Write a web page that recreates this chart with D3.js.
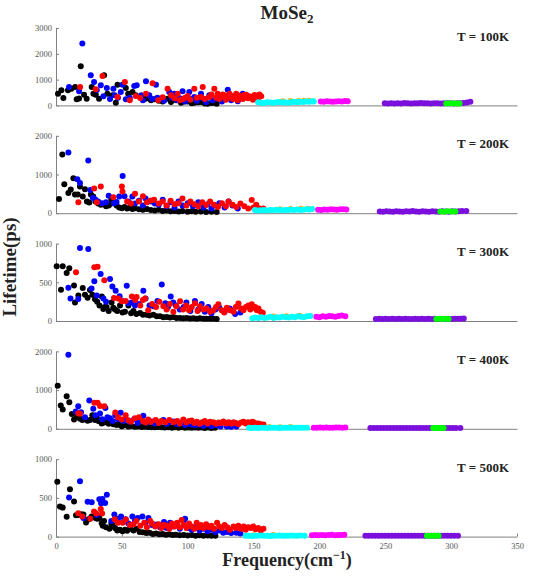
<!DOCTYPE html>
<html><head><meta charset="utf-8">
<script src="https://cdn.jsdelivr.net/npm/d3@7"></script>
<style>body{margin:0;background:#fff}</style>
</head><body><svg id="c" width="541" height="582"></svg>
<script>
// ---------- labels / ticks ----------
const titleMain = "MoSe";
const titleSub = "2";
const yLabel = "Lifetime(ps)";
const xLabelMain = "Frequency(cm";
const xLabelSup = "−1";
const tempLabels = ["T = 100K", "T = 200K", "T = 300K", "T = 400K", "T = 500K"];
const yMaxes = [3000, 2000, 1000, 2000, 1000];
const yTickVals = [[0,1000,2000,3000],[0,1000,2000],[0,500,1000],[0,1000,2000],[0,500,1000]];
const xTickVals = [0,50,100,150,200,250,300,350];
const seriesNames = ["ZA","TA","LA","O1","O2","O3","O4","O5"];
const seriesColors = ["#000000","#0000ff","#ff0000","#edb120","#00ffff","#ff00ff","#7b0fdc","#00ff00"];

// ---------- T = 100K ----------
const za100 = [[1.5,455],[4.1,585],[5.6,286],[9.1,585],[11.7,650],[14.5,714],[15.7,234],[17.5,270],[18.8,1520],[21.3,416],[23.3,260],[27.1,714],[28.4,455],[30.2,416],[32.7,260],[36.5,1170],[39,455],[42.9,390],[45.4,104],[46.7,805],[53,675],[54.8,455],[58.1,520],[60.6,390],[65.7,325],[68,260],[72.1,195],[74.6,234],[78,180],[80.9,156],[84.7,260],[87.3,130],[91.1,195],[94.9,104],[97,150],[99.9,156],[103,80],[105,104],[108,120],[110.1,130],[113,70],[115.1,65],[118,90],[120.2,104],[122,60]];
const ta100 = [[9.9,714],[17.5,545],[20,2400],[26.4,1170],[28.9,908],[31,600],[34,778],[36,350],[38.6,675],[41,250],[43.6,650],[44.6,390],[47,300],[49.2,520],[50.5,805],[53,234],[56,300],[59.4,750],[61.3,778],[64.8,390],[66,200],[68.3,935],[70.8,390],[73,250],[75.9,805],[77,300],[79.7,260],[82,180],[86,520],[88,300],[89.8,455],[92,200],[94,280],[96.1,545],[98,150],[101.2,520],[103,250],[105,325],[107,180],[110.1,455],[112,260],[114,120],[116.4,390],[119,200],[122.7,260],[126,150],[130.4,610],[133,200],[135.5,350],[138,160],[141.8,455]];
const la100 = [[18.3,714],[30.2,623],[35.3,1140],[46.7,325],[52.3,908],[56,200],[60.6,364],[63.9,286],[68.3,455],[73.3,856],[77.6,195],[81,320],[84.7,650],[87.3,390],[90,280],[92.4,455],[94,200],[96.1,234],[98,300],[100,364],[102,220],[105,650],[107,300],[110.1,325],[111.4,714],[113,250],[116.4,325],[118,420],[120.2,650],[121.5,300],[122.7,455],[124,250],[125.3,325],[126.5,420],[127.8,390],[129,220],[130.4,286],[131.7,450],[133,364],[134.3,250],[135.5,300],[136.8,455],[138,200],[139.3,380],[140.6,325],[141.9,250],[143.1,400],[144.4,416],[145.7,280],[147,350],[148.2,325],[149.5,220],[150.8,400],[152,300],[153.3,250],[154.5,420],[155.8,350]];
const or100 = [[172,165],[178,170],[184,175],[188,180],[192,185]];
const cy100 = [[153.5,120],[155.8,105],[158,95],[160.3,125],[162.6,110],[164.9,100],[167.2,120],[169.5,135],[171.8,110],[174,120],[176.3,100],[178.6,125],[180.9,145],[183.2,120],[185.5,140],[187.8,130],[190,155],[192.3,145],[194.5,165],[195.7,150]];
const mg100 = [[201,150],[203.3,140],[205.6,160],[207.9,150],[210.2,145],[212.5,155],[214.8,165],[217.1,150],[219.4,170],[221.5,160]];
const pu100 = [[249.6,80],[252,75],[254.5,85],[257,70],[259.5,80],[262,75],[264.5,90],[267,80],[269.5,75],[272,85],[274.5,80],[277,90],[279.5,85],[282,80],[284.5,75],[287,85],[289.5,80],[292,75],[294.5,80],[297,85],[299.5,80],[302,75],[304.5,80],[307,85],[309.5,90],[312,110],[314.6,140]];
const gr100 = [[296.3,75],[298.8,70],[301.3,80],[303.8,75],[306.3,70]];

// ---------- T = 200K ----------
const za200 = [[2.3,370],[4.8,1520],[6.3,750],[9.4,520],[11.2,610],[13.2,900],[14.4,480],[16.5,480],[18.2,690],[20.3,430],[22,620],[23.5,300],[25.3,275],[26.5,480],[28.3,430],[30,300],[32,250],[34,220],[36,230],[38,180],[40,200],[41,230],[42,350],[43,310],[44.5,260],[46,200],[48,150],[50,130],[52,160],[54,120],[56,140],[58,110],[60,130],[63,100],[66,90],[69,110],[72,80],[75,70],[78,90],[81,60],[84,70],[87,50],[90,60],[93,45],[96,55],[100,40],[103,50],[106,35],[110,45],[114,30],[118,40],[122,30]];
const ta200 = [[9.4,1570],[16.2,880],[18.2,780],[24.5,1360],[26,600],[28,400],[30,350],[32,300],[35,260],[38,280],[40,450],[44,260],[46,290],[48,430],[50.6,960],[52,440],[55,300],[58,430],[60,250],[63,320],[66,200],[68,380],[72,300],[75,250],[78,220],[81,350],[84,180],[87,280],[90,150],[93,300],[96,200],[100,260],[104,180],[108,280],[112,150],[115,230],[118,120],[121,200],[124,260],[128,150],[131,300],[134,200],[138,120]];
const la200 = [[17,280],[29,640],[31,280],[34,690],[43.5,410],[50,690],[50.5,560],[54,300],[57,250],[60,500],[63,300],[66,440],[69,280],[72,330],[74.5,350],[78,250],[81,300],[84,200],[87,320],[90,230],[93,260],[96,380],[99,200],[102,300],[105,230],[108,180],[111,280],[114,210],[117,300],[120,220],[123,160],[126,260],[129,180],[131,300],[134,220],[137,160],[140,250],[143,180],[146,120],[148.6,340],[150,150],[152,220],[154,130],[156,100],[157.4,120]];
const or200 = [[170,105],[178,110],[186,112],[191,115]];
const cy200 = [[151,80],[153.3,70],[155.6,75],[157.9,85],[160.2,70],[162.5,80],[164.8,75],[167.1,90],[169.4,80],[171.7,75],[174,85],[176.3,80],[178.6,90],[180.9,85],[183.2,95],[185.5,80],[187.8,90],[190.1,100],[192.4,95],[194.4,110]];
const mg200 = [[199,90],[201.4,85],[203.8,95],[206.2,90],[208.6,100],[211,95],[213.4,90],[215.8,100],[218.2,105],[220.4,95]];
const pu200 = [[245.8,45],[248.3,40],[250.8,50],[253.3,45],[255.8,40],[258.3,50],[260.8,45],[263.3,40],[265.8,50],[268.3,45],[270.8,55],[273.3,45],[275.8,40],[278.3,50],[280.8,45],[283.3,40],[285.8,50],[288.3,45],[290.8,40],[293.3,50],[295.8,45],[298.3,40],[300.8,50],[303.3,45],[305.8,50],[308.3,55],[311.5,60]];
const gr200 = [[291.8,45],[294.6,40],[297.4,50],[300.2,45],[303.2,45]];

// ---------- T = 300K ----------
const za300 = [[0.5,707],[3.8,405],[5.1,707],[8.1,620],[10.1,680],[13.7,460],[14.4,240],[17,330],[20.3,427],[22,340],[24,300],[25.8,400],[27.6,340],[29.6,280],[31.3,250],[33,200],[34.8,318],[35.9,155],[37,180],[38.4,180],[40,130],[42.2,240],[43.5,170],[44.8,150],[46.5,130],[48.6,200],[50.5,110],[52.4,120],[55,200],[57,100],[58.8,130],[61,90],[63.8,103],[66,80],[68.9,82],[71,70],[73.9,82],[76.5,60],[79,60],[81.5,50],[84,52],[86.5,45],[89.1,52],[91.5,40],[94.2,39],[96.7,35],[99.2,39],[101.8,32],[104.3,35],[106.8,30],[109.3,35],[112,28],[114.4,30],[117,28],[119.5,30],[122,25]];
const ta300 = [[9.4,430],[11,290],[16.9,285],[18.2,944],[24.5,930],[27,420],[29.1,512],[31,330],[33.9,608],[36,290],[38,250],[41,543],[42.8,445],[45.3,390],[48.3,320],[50,260],[53.7,457],[55,230],[57.6,240],[60,200],[63,220],[66.3,390],[68,290],[71,200],[74,190],[77,260],[80.3,470],[83,230],[85,180],[87.1,318],[89,240],[91,200],[94,150],[97,180],[99,240],[102,130],[105.5,260],[108,150],[110.6,220],[113,120],[115.6,180],[118,100],[121,150],[124,170],[128,120],[132,160],[136,90],[140,110]];
const la300 = [[15.2,630],[29.1,694],[31.6,700],[36.7,525],[44,297],[47.3,292],[49.9,254],[52.9,260],[57.6,317],[60.1,270],[61.2,310],[64,200],[66,270],[67.6,292],[70,140],[73,220],[76,180],[78.5,250],[81.5,190],[84,150],[86.5,220],[89.1,120],[91.5,190],[94.2,255],[96.5,150],[98.8,200],[101,140],[103.1,180],[105.5,230],[107.5,130],[109.3,190],[112,150],[114.4,160],[117,120],[119.5,140],[121.5,180],[123.3,215],[125.8,140],[127.7,110],[129.7,170],[132,140],[134.8,120],[136.5,180],[138.5,225],[140.5,160],[142.3,140],[144.2,180],[146.1,200],[147.5,150],[148.6,215],[150,170],[151.2,180],[152.5,140],[153.7,160],[155.3,120],[157,107]];
const or300 = [[165,58],[175,62],[185,68]];
const cy300 = [[149.1,35],[151.4,45],[153.7,40],[156,50],[158.3,40],[160.6,45],[162.9,55],[165.2,40],[167.5,50],[169.8,45],[172.1,55],[174.4,50],[176.7,45],[179,55],[181.3,50],[183.6,60],[185.9,55],[188.2,50],[190.5,60],[193.1,65]];
const mg300 = [[197.7,55],[200.1,50],[202.5,60],[204.9,55],[207.3,65],[209.7,60],[212.1,55],[214.5,65],[216.9,70],[219.7,60]];
const pu300 = [[242.8,25],[245.3,30],[247.8,25],[250.3,28],[252.8,25],[255.3,30],[257.8,25],[260.3,28],[262.8,25],[265.3,30],[267.8,26],[270.3,25],[272.8,30],[275.3,25],[277.8,28],[280.3,25],[282.8,30],[285.3,25],[287.8,28],[290.3,25],[292.8,30],[295.3,25],[297.8,28],[300.3,25],[302.8,30],[305.3,28],[307.5,30],[309.6,32]];
const gr300 = [[288.8,25],[291.1,28],[293.4,25],[295.7,28],[298.1,25]];

// ---------- T = 400K ----------
const za400 = [[1.3,1115],[3.6,600],[5.1,497],[8.1,840],[10.1,686],[12,380],[13.7,240],[15.2,370],[17,300],[18.2,260],[20,230],[22,250],[24,210],[25.8,230],[27.6,350],[29.6,230],[31,280],[32.2,200],[34.7,140],[36.5,160],[38.5,170],[40,130],[42,150],[43.5,120],[46,95],[48,110],[49.9,67],[52,90],[54.9,60],[57,75],[59.9,56],[62,60],[65,47],[67.5,55],[70,47],[72.5,40],[75.1,43],[77.5,45],[80.2,43],[82.5,35],[85.2,39],[88,30],[90.3,39],[93,30],[95.4,39],[98,28],[100.4,34],[103,25],[105.5,34],[108,25],[110.6,34],[113,22],[115.6,34],[118,22],[120.7,30]];
const ta400 = [[9.4,1915],[15,450],[16.9,583],[19,430],[22,300],[25.3,730],[28.3,515],[30,350],[33.4,395],[35,250],[37.5,540],[39,300],[41,270],[43,200],[45,350],[47,250],[49.1,412],[51,200],[53.1,240],[56,180],[59.3,250],[62,150],[64,200],[66.3,340],[69,160],[72.8,190],[75,140],[78,170],[81.5,230],[84,130],[86,170],[89.1,190],[92,120],[95.4,150],[98,100],[100,130],[103,110],[106,90],[109.3,110],[112,80],[115.6,110],[118,70],[121.9,90],[125,60],[129.7,60],[133,50],[137,60]];
const la400 = [[16.9,400],[18.2,386],[29.1,670],[31.6,670],[33.4,590],[36.7,583],[45,420],[47,300],[49.9,240],[52.9,350],[55,220],[57,180],[59.9,270],[63,300],[66,200],[68,160],[70,240],[72,180],[75.7,230],[78,150],[80,200],[83,170],[86,230],[89.1,170],[92,200],[94,140],[96.7,240],[99,160],[101,200],[103,215],[105,150],[107,180],[109,130],[111,170],[113,200],[115,140],[117,180],[119.5,170],[121.5,130],[123.5,160],[125.5,150],[127.1,190],[129,140],[131,170],[133,130],[134.8,170],[136.5,150],[138.5,120],[140.5,160],[142.3,180],[144,140],[146,170],[147.7,150],[149.3,185],[151,150],[153.6,140],[155.5,120],[157.5,110]];
const or400 = [[162,45],[170,42],[178,48]];
const cy400 = [[146.6,25],[148.9,20],[151.2,28],[153.5,22],[155.8,25],[158.1,30],[160.4,22],[162.7,26],[165,24],[167.3,28],[169.6,22],[171.9,26],[174.2,30],[176.5,24],[178.8,28],[181.1,25],[183.4,30],[185.7,26],[188,28],[190.6,30]];
const mg400 = [[195.7,30],[198.1,28],[200.5,32],[202.9,30],[205.3,34],[207.7,30],[210.1,28],[212.5,32],[214.9,35],[217.3,30],[219.7,32]];
const pu400 = [[238.7,20],[241.2,18],[243.7,22],[246.2,20],[248.7,18],[251.2,22],[253.7,20],[256.2,18],[258.7,22],[261.2,20],[263.7,18],[266.2,22],[268.7,20],[271.2,18],[273.7,22],[276.2,20],[278.7,18],[281.2,22],[283.7,20],[286.2,18],[288.7,22],[291.2,20],[293.7,18],[296.2,22],[298.7,20],[301.2,18],[303.7,22],[307,22]];
const gr400 = [[286.3,20],[288.3,22],[290.3,20],[292.3,22],[294.3,20]];

// ---------- T = 500K ----------
const za500 = [[1,710],[3,388],[5.1,375],[8.1,258],[10.6,612],[13.7,452],[15.2,275],[17,280],[19,290],[20.8,285],[22.8,181],[24.5,220],[25.8,235],[27,260],[28.3,260],[30,240],[31.3,230],[32.9,240],[34.7,172],[35.5,140],[36.5,200],[38,120],[40.5,100],[42,170],[43,150],[44.8,110],[46.5,80],[48.6,90],[50.5,70],[52.4,90],[54,75],[56.2,100],[58.8,78],[61.3,100],[63.5,60],[66,55],[68.5,45],[71,50],[73.5,35],[76,40],[78.5,30],[81,35],[83.5,25],[86,30],[88.5,20],[91,25],[94,18],[97,22],[100,15],[103,20],[106,12],[109,18],[112,12],[115,15],[118,10],[121,12]];
const ta500 = [[9.9,505],[18.2,715],[20.8,240],[24,450],[27.1,444],[30.9,280],[32.9,483],[34.2,430],[35.2,487],[37.3,435],[38.6,540],[42,200],[44.3,284],[47,230],[49.4,260],[51,190],[52.9,224],[55,170],[58,260],[60,210],[62,240],[65.6,260],[68,180],[70.2,240],[73,150],[76.5,155],[79,120],[82,190],[84,110],[86.6,180],[89,130],[92,170],[94,100],[96.8,200],[98,230],[100.6,110],[103,90],[106,120],[109,80],[112,100],[115,70],[118,90],[121,60],[124,80],[127,50],[130,60],[133,45],[137,50],[140,40]];
const la500 = [[16.9,302],[20,260],[26,230],[28.9,325],[30.5,300],[34,355],[35,300],[44.5,225],[47,180],[50.7,180],[53,220],[56,150],[58.8,160],[61,200],[64,140],[67,180],[69,120],[71.5,200],[73,170],[75.3,130],[78,160],[80,110],[82,150],[84.1,140],[86,100],[88,170],[90,130],[92,180],[94,120],[95.4,215],[97,150],[99,110],[101,170],[103,130],[105,100],[106.8,180],[108.5,120],[110,150],[112,110],[114,160],[116,120],[118,140],[120,100],[122.3,180],[124,130],[126,110],[128,150],[130,120],[132,90],[134.8,130],[136.5,110],[138.5,140],[140.5,100],[142.5,130],[144,90],[146,120],[148,110],[149.8,130],[151.5,95],[153.5,110],[155.5,80],[157.5,100]];
const or500 = [[150,18],[165,20]];
const cy500 = [[144.1,10],[146.4,12],[148.7,8],[151,12],[153.3,10],[155.6,14],[157.9,10],[160.2,12],[162.5,8],[164.8,12],[167.1,10],[169.4,14],[171.7,10],[174,12],[176.3,10],[178.6,14],[180.9,12],[183.2,10],[185.5,14],[188.7,12]];
const mg500 = [[194.3,18],[196.8,20],[199.3,16],[201.8,22],[204.3,18],[206.8,20],[209.3,24],[211.8,18],[214.3,22],[216.8,20],[218.9,24]];
const pu500 = [[234.9,12],[237.4,10],[239.9,12],[242.4,10],[244.9,12],[247.4,10],[249.9,12],[252.4,10],[254.9,12],[257.4,10],[259.9,12],[262.4,10],[264.9,12],[267.4,10],[269.9,12],[272.4,10],[274.9,12],[277.4,10],[279.9,12],[282.4,10],[284.9,12],[287.4,10],[289.9,12],[292.4,10],[294.9,12],[297.4,10],[299.9,12],[302.4,10],[305.2,12]];
const gr500 = [[281.6,10],[283.8,12],[286,10],[288.2,12],[290.5,10]];

const panelData = [
  [za100, ta100, la100, or100, cy100, mg100, pu100, gr100],
  [za200, ta200, la200, or200, cy200, mg200, pu200, gr200],
  [za300, ta300, la300, or300, cy300, mg300, pu300, gr300],
  [za400, ta400, la400, or400, cy400, mg400, pu400, gr400],
  [za500, ta500, la500, or500, cy500, mg500, pu500, gr500]
];

// ---------- drawing ----------
const svg = d3.select("#c");
const serif = "'Liberation Serif','Times New Roman',serif";
const axisColor = "#808080";
const x = d3.scaleLinear().domain([0, 350]).range([56, 517]);
const panelTop0 = 28, panelStep = 107.8, panelH = 77.4;

panelData.forEach((series, i) => {
  const top = panelTop0 + i * panelStep, bottom = top + panelH;
  const y = d3.scaleLinear().domain([0, yMaxes[i]]).range([bottom, top]);
  const g = svg.append("g");

  const ya = g.append("g").attr("transform", `translate(${x(0)},0)`)
    .call(d3.axisLeft(y).tickValues(yTickVals[i]).tickFormat(d3.format("d"))
      .tickSizeInner(-3).tickSizeOuter(0).tickPadding(4));
  const isLast = i === panelData.length - 1;
  const xa = g.append("g").attr("transform", `translate(0,${bottom})`)
    .call(d3.axisBottom(x).tickValues(isLast ? xTickVals : []).tickFormat(d3.format("d"))
      .tickSizeInner(-3).tickSizeOuter(0).tickPadding(6));
  [ya, xa].forEach(a => {
    a.select(".domain").attr("stroke", axisColor).attr("stroke-width", 1);
    a.selectAll(".tick line").attr("stroke", axisColor);
    a.selectAll(".tick text").attr("fill", "#555").style("font-family", serif).style("font-size", "8.5px");
  });

  series.forEach((pts, k) => {
    g.append("g").attr("class", "s-" + seriesNames[k])
      .selectAll("circle").data(pts).join("circle")
      .attr("cx", d => x(d[0])).attr("cy", d => y(d[1]))
      .attr("r", 3).attr("fill", seriesColors[k]);
  });

  g.append("text").attr("x", 509).attr("y", top + 12.5)
    .attr("text-anchor", "end").style("font-family", serif)
    .style("font-weight", "bold").style("font-size", "13px").attr("fill", "#222")
    .text(tempLabels[i]);
});

const t = svg.append("text").attr("x", 287).attr("y", 19).attr("text-anchor", "middle")
  .style("font-family", serif).style("font-weight", "bold").style("font-size", "19px").attr("fill", "#222");
t.append("tspan").text(titleMain);
t.append("tspan").attr("dy", 4).style("font-size", "13px").text(titleSub);

svg.append("text").attr("transform", "translate(16,267) rotate(-90)").attr("text-anchor", "middle")
  .style("font-family", serif).style("font-weight", "bold").style("font-size", "19px").attr("fill", "#222")
  .text(yLabel);

const xl = svg.append("text").attr("x", 287).attr("y", 566).attr("text-anchor", "middle")
  .style("font-family", serif).style("font-weight", "bold").style("font-size", "18px").attr("fill", "#222");
xl.append("tspan").text(xLabelMain);
xl.append("tspan").attr("dy", -7).style("font-size", "12px").text(xLabelSup);
xl.append("tspan").attr("dy", 7).text(")");
</script></body></html>
